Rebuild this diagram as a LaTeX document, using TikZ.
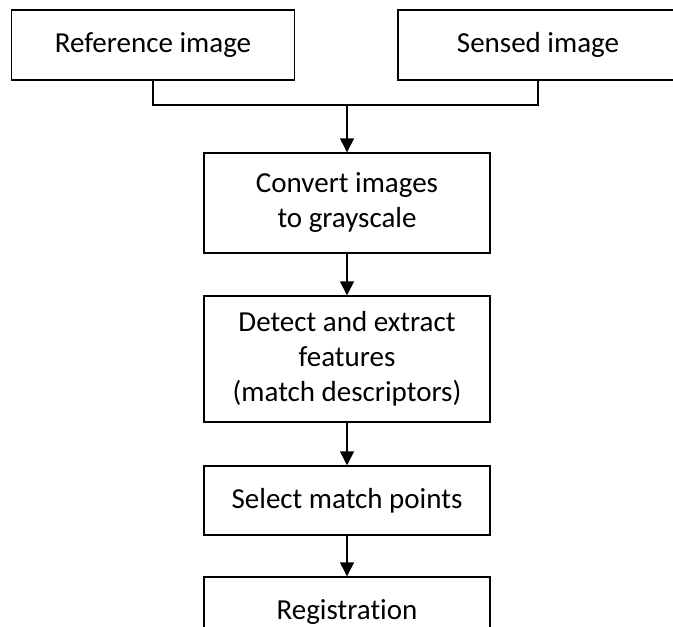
\documentclass[tikz,border=0pt]{standalone}
\usepackage{fontspec}
\setmainfont{Carlito}[Ligatures={NoCommon}]
\usetikzlibrary{arrows.meta}
\tikzset{
  box/.style={draw, line width=1.1pt, inner sep=0pt, align=center,
    font=\fontsize{21.75pt}{26.25pt}\selectfont},
  arr/.style={line width=1.1pt, -{Triangle[width=10.5pt,length=10.5pt]}},
  conn/.style={line width=1.1pt}
}
\begin{document}
\begin{tikzpicture}[x=0.75pt,y=-0.75pt]
\useasboundingbox (0,0) rectangle (673,626);
\clip (0,0) rectangle (673,626);
\node[box, minimum width=283*0.75pt, minimum height=70*0.75pt] (ref) at (153,45) {Reference image};
\node[box, minimum width=280*0.75pt, minimum height=70*0.75pt] (sen) at (538,45) {Sensed image};
\node[box, minimum width=286*0.75pt, minimum height=100*0.75pt] (conv) at (347,203) {Convert images\\to grayscale};
\node[box, minimum width=286*0.75pt, minimum height=126*0.75pt] (det) at (347,359) {Detect and extract\\features\\(match descriptors)};
\node[box, minimum width=286*0.75pt, minimum height=69*0.75pt] (sel) at (347,500.5) {Select match points};
\node[box, minimum width=286*0.75pt, minimum height=69*0.75pt] (reg) at (347,611.5) {Registration};
\coordinate (j) at (347,105);
\draw[conn] (ref.south) |- (j) -| (sen.south);
\draw[arr] (j) -- (conv.north);
\draw[arr] (conv.south) -- (det.north);
\draw[arr] (det.south) -- (sel.north);
\draw[arr] (sel.south) -- (reg.north);
\end{tikzpicture}
\end{document}
